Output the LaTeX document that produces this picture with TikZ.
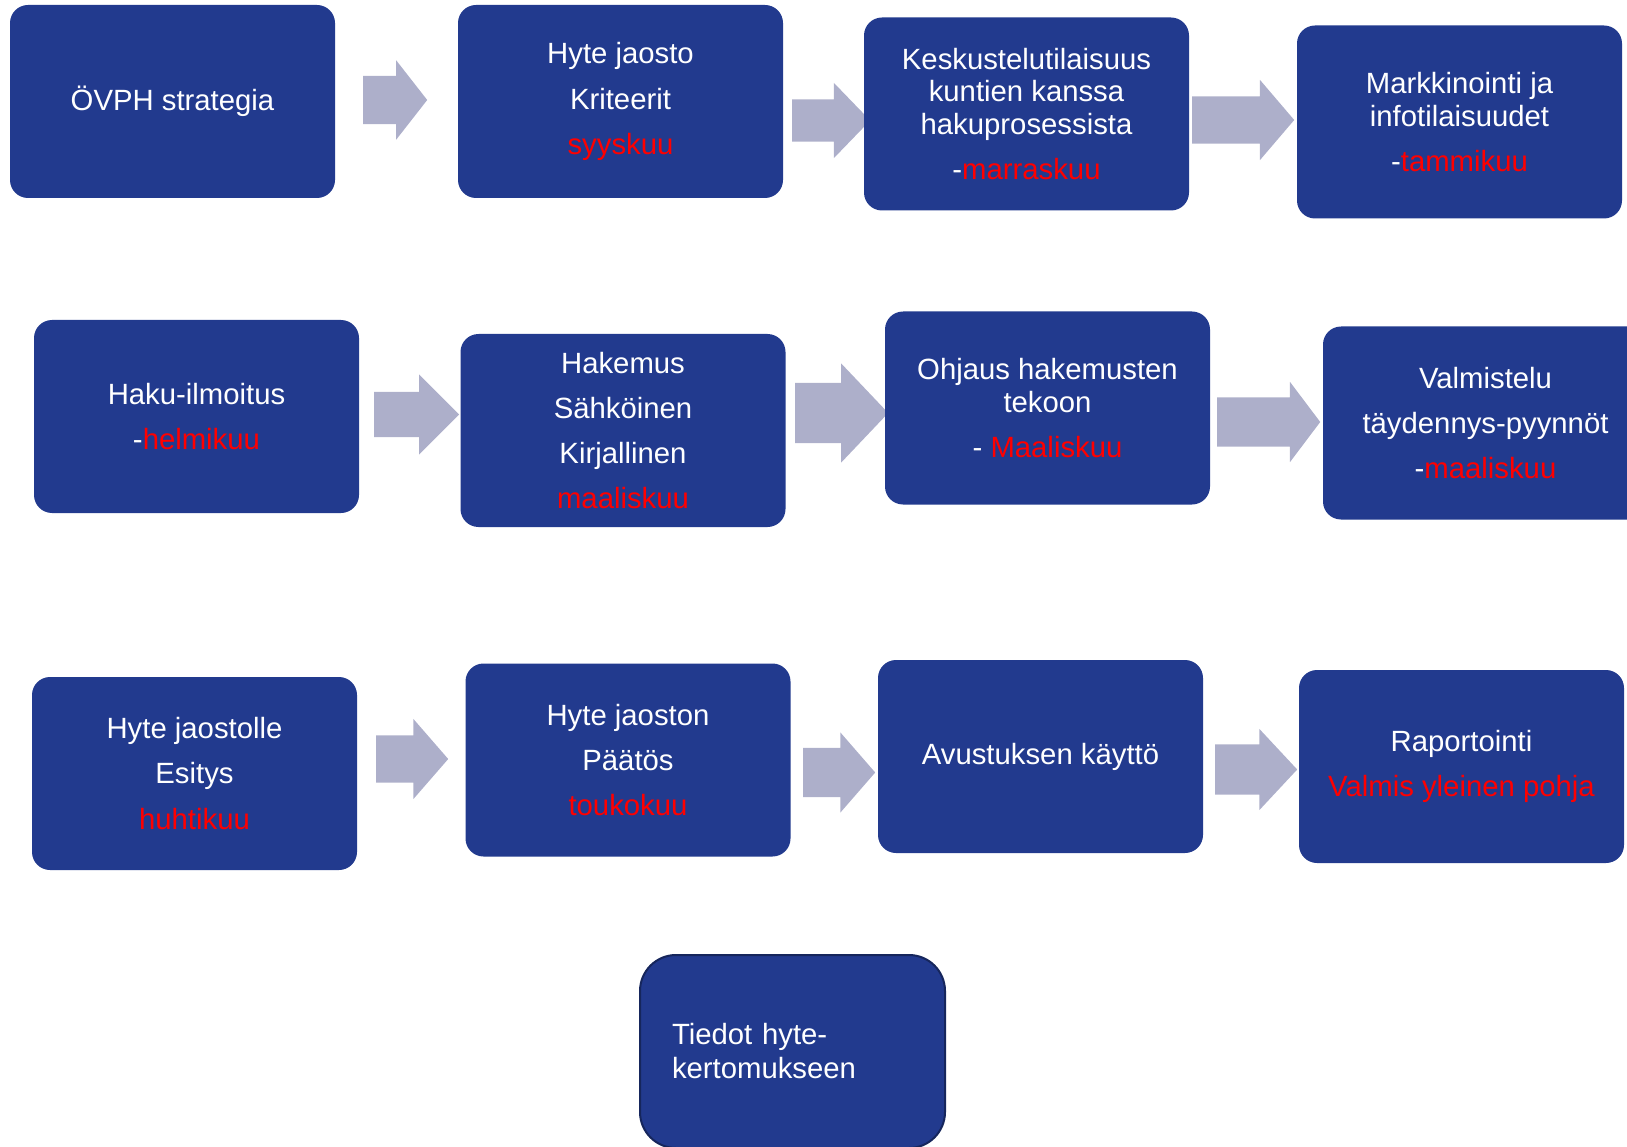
\documentclass[tikz,border=0pt]{standalone}
\usepackage{fontspec}
\setmainfont{Liberation Sans}
\usepackage{tikz}
\usetikzlibrary{shapes.arrows}
\definecolor{boxblue}{RGB}{34,58,142}
\definecolor{arrowgrey}{RGB}{173,175,202}
\tikzstyle{box}=[fill=boxblue, rounded corners=18pt, minimum width=325pt, minimum height=193pt, inner sep=0pt, text=white, align=center, font=\fontsize{29.3}{32.3}\selectfont]
\tikzstyle{endbox}=[box, draw=boxblue!65!black, line width=2pt, rounded corners=36pt, minimum width=305pt, text width=241pt, inner xsep=32pt, align=left, font=\fontsize{29.3}{34}\selectfont]
\tikzstyle{blockarrow}=[single arrow, fill=arrowgrey, anchor=tail, inner xsep=0pt, single arrow tip angle=98]

\begin{document}
\begin{tikzpicture}[x=1pt, y=-1pt]
            \useasboundingbox (0,0) rectangle (1627,1147);
            \clip (0,0) rectangle (1627,1147);
            % arrows between the steps
            \node [blockarrow, minimum height=64pt, inner ysep=24pt, single arrow head extend=15.5pt, single arrow tip angle=104] (a1) at (363,100) {};
            \node [blockarrow, minimum height=78pt, inner ysep=21pt, single arrow head extend=16.5pt, single arrow tip angle=92] (a2) at (792,120.5) {};
            \node [blockarrow, minimum height=102pt, inner ysep=23.5pt, single arrow head extend=16.5pt, single arrow tip angle=99] (a3) at (1192,120) {};
            \node [blockarrow, minimum height=85pt, inner ysep=22.5pt, single arrow head extend=17.5pt, single arrow tip angle=90] (a4) at (374,414.5) {};
            \node [blockarrow, minimum height=93pt, inner ysep=30pt, single arrow head extend=19.5pt, single arrow tip angle=93] (a5) at (795,413) {};
            \node [blockarrow, minimum height=103pt, inner ysep=24.5pt, single arrow head extend=15.5pt, single arrow tip angle=106] (a6) at (1217,422) {};
            \node [blockarrow, minimum height=72pt, inner ysep=23.5pt, single arrow head extend=16.5pt, single arrow tip angle=98] (a7) at (376,759) {};
            \node [blockarrow, minimum height=72pt, inner ysep=24.5pt, single arrow head extend=15.5pt, single arrow tip angle=98] (a8) at (803,772.5) {};
            \node [blockarrow, minimum height=82pt, inner ysep=25pt, single arrow head extend=15.5pt, single arrow tip angle=94] (a9) at (1215,769.5) {};
            % first row
            \node [box] (strategia) at (172.5,101.5) {ÖVPH strategia};
            \node [box] (kriteerit) at (620.5,101.5) {Hyte jaosto\\[12.8pt] Kriteerit\\[12.8pt] \textcolor{red}{syyskuu}};
            \node [box] (keskustelu) at (1026.5,114) {Keskustelutilaisuus\\ kuntien kanssa\\ hakuprosessista\\[12.8pt] -\textcolor{red}{marraskuu}};
            \node [box] (markkinointi) at (1459.5,122) {Markkinointi ja\\ infotilaisuudet\\[12.8pt] -\textcolor{red}{tammikuu}};
            % second row
            \node [box] (haku) at (196.5,416.5) {Haku-ilmoitus\\[12.8pt] -\textcolor{red}{helmikuu}};
            \node [box] (hakemus) at (623,430.5) {Hakemus\\[12.8pt] Sähköinen\\[12.8pt] Kirjallinen\\[12.8pt] \textcolor{red}{maaliskuu}};
            \node [box] (ohjaus) at (1047.5,408) {Ohjaus hakemusten\\ tekoon\\[12.8pt] - \textcolor{red}{Maaliskuu}};
            \node [box] (valmistelu) at (1485.5,423) {Valmistelu\\[12.8pt] täydennys-pyynnöt\\[12.8pt] -\textcolor{red}{maaliskuu}};
            % third row
            \node [box] (esitys) at (194.5,773.5) {Hyte jaostolle\\[12.8pt] Esitys\\[12.8pt] \textcolor{red}{huhtikuu}};
            \node [box] (paatos) at (628,760) {Hyte jaoston\\[12.8pt] Päätös\\[12.8pt] \textcolor{red}{toukokuu}};
            \node [box] (kaytto) at (1040.5,756.5) {Avustuksen käyttö};
            \node [box] (raportointi) at (1461.5,766.5) {Raportointi\\[12.8pt] \textcolor{red}{Valmis yleinen pohja}};
            % last step
            \node [endbox] (kertomus) at (792.5,1051.5) {Tiedot hyte-\\ kertomukseen};
        \end{tikzpicture}
\end{document}
